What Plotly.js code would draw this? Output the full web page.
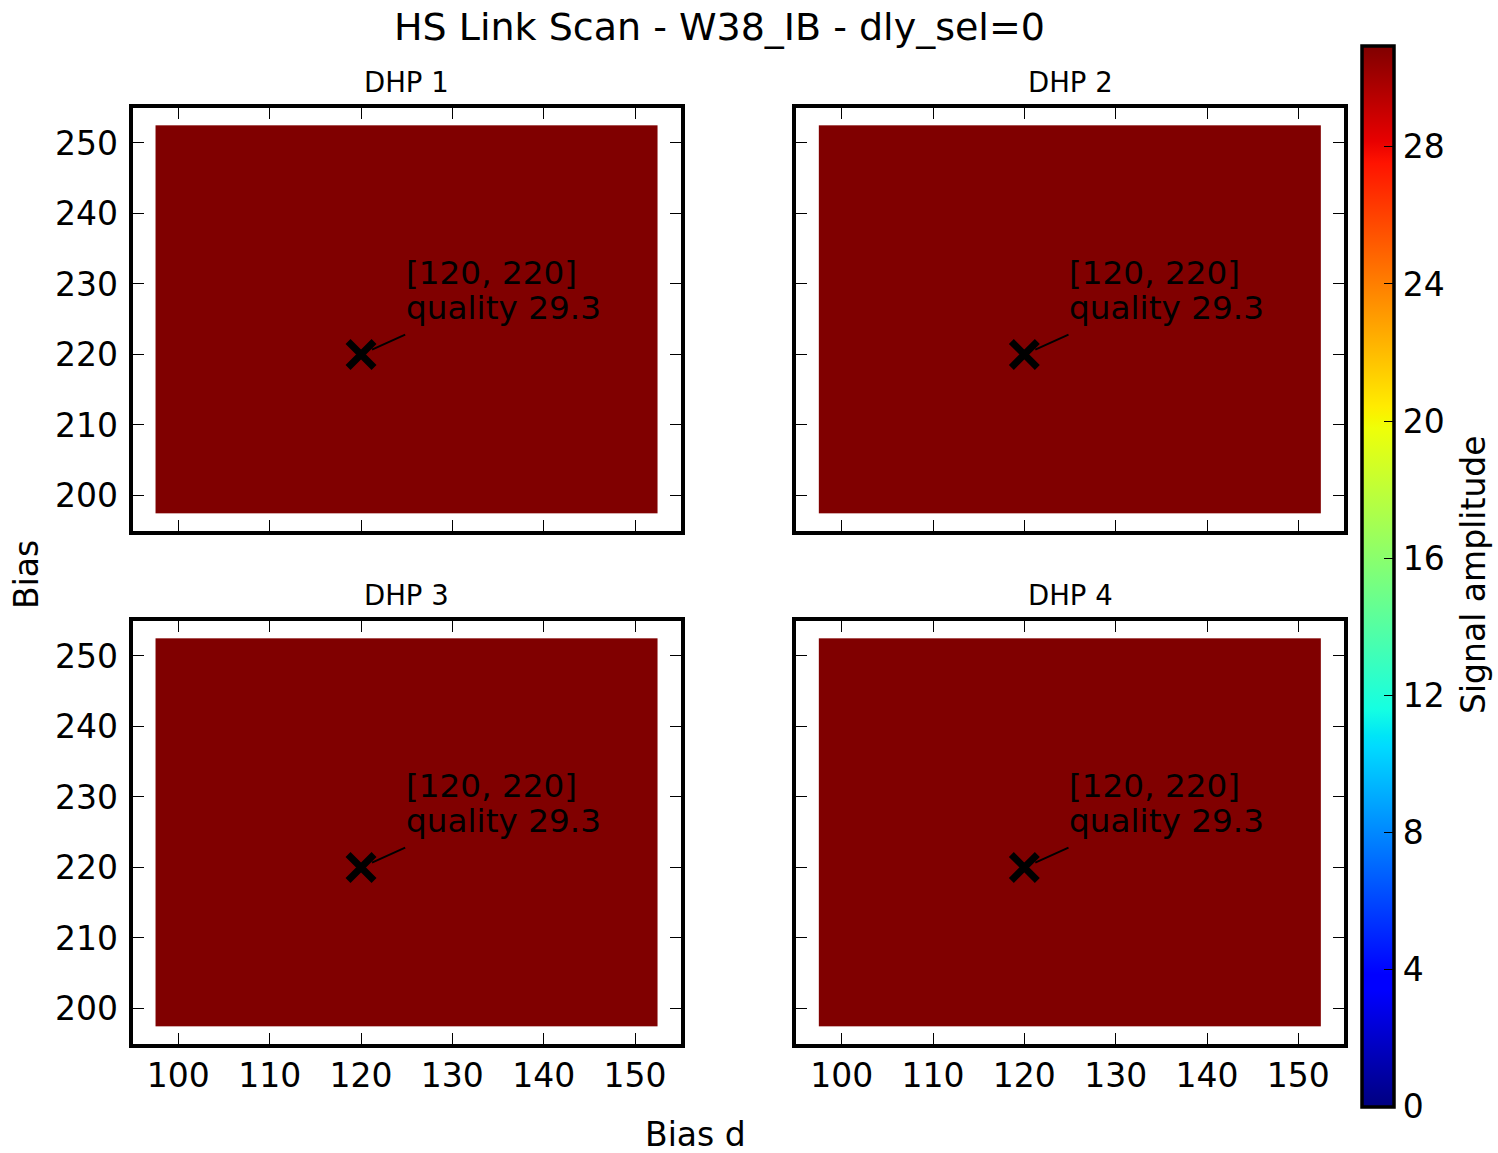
<!DOCTYPE html>
<html>
<head>
<meta charset="utf-8">
<script src="https://cdn.plot.ly/plotly-3.0.1.min.js"></script>
<style>html,body{margin:0;padding:0;background:#fff;}#chart{width:1498px;height:1153px;}</style>
</head>
<body>
<div id="chart"></div>
<script>
// ---------------- data ----------------
const chartTitle = 'HS Link Scan - W38_IB - dly_sel=0';
const panelNames = ['DHP 1', 'DHP 2', 'DHP 3', 'DHP 4'];
const biasD = [100, 105, 110, 115, 120, 125, 130, 135, 140, 145, 150];   // x (Bias d)
const bias  = [200, 205, 210, 215, 220, 225, 230, 235, 240, 245, 250];   // y (Bias)
const signalAmplitude = [
  [30.95, 30.95, 30.95, 30.95, 30.95, 30.95, 30.95, 30.95, 30.95, 30.95, 30.95],
  [30.95, 30.95, 30.95, 30.95, 30.95, 30.95, 30.95, 30.95, 30.95, 30.95, 30.95],
  [30.95, 30.95, 30.95, 30.95, 30.95, 30.95, 30.95, 30.95, 30.95, 30.95, 30.95],
  [30.95, 30.95, 30.95, 30.95, 30.95, 30.95, 30.95, 30.95, 30.95, 30.95, 30.95],
  [30.95, 30.95, 30.95, 30.95, 30.95, 30.95, 30.95, 30.95, 30.95, 30.95, 30.95],
  [30.95, 30.95, 30.95, 30.95, 30.95, 30.95, 30.95, 30.95, 30.95, 30.95, 30.95],
  [30.95, 30.95, 30.95, 30.95, 30.95, 30.95, 30.95, 30.95, 30.95, 30.95, 30.95],
  [30.95, 30.95, 30.95, 30.95, 30.95, 30.95, 30.95, 30.95, 30.95, 30.95, 30.95],
  [30.95, 30.95, 30.95, 30.95, 30.95, 30.95, 30.95, 30.95, 30.95, 30.95, 30.95],
  [30.95, 30.95, 30.95, 30.95, 30.95, 30.95, 30.95, 30.95, 30.95, 30.95, 30.95],
  [30.95, 30.95, 30.95, 30.95, 30.95, 30.95, 30.95, 30.95, 30.95, 30.95, 30.95]
];
const bestBiasD = [120, 120, 120, 120];
const bestBias  = [220, 220, 220, 220];
const quality   = [29.3, 29.3, 29.3, 29.3];
const xTicks = [100, 110, 120, 130, 140, 150];
const yTicks = [200, 210, 220, 230, 240, 250];
const cbTicks = [0, 4, 8, 12, 16, 20, 24, 28];
const colorMin = 0;
const colorMax = 30.95;

// ---------------- style ----------------
const W = 1498, H = 1153;
const FONT = 'DejaVu Sans, sans-serif';
const TICK = 33;
const px = v => v / W;
const py = v => 1 - v / H;

// matplotlib "jet" colormap from its segment data
const jetSeg = {
  r: [[0, 0], [0.35, 0], [0.66, 1], [0.89, 1], [1, 0.5]],
  g: [[0, 0], [0.125, 0], [0.375, 1], [0.64, 1], [0.91, 0], [1, 0]],
  b: [[0, 0.5], [0.11, 1], [0.34, 1], [0.65, 0], [1, 0]]
};
function segVal(seg, t) {
  for (let i = 0; i < seg.length - 1; i++) {
    const [t0, v0] = seg[i], [t1, v1] = seg[i + 1];
    if (t >= t0 && t <= t1) return v0 + (v1 - v0) * (t - t0) / (t1 - t0);
  }
  return seg[seg.length - 1][1];
}
const stopSet = new Set();
['r', 'g', 'b'].forEach(k => jetSeg[k].forEach(p => stopSet.add(p[0])));
const stops = Array.from(stopSet).sort((a, b) => a - b);
const jet = stops.map(t => [t, 'rgb(' + Math.round(255 * segVal(jetSeg.r, t)) + ',' +
  Math.round(255 * segVal(jetSeg.g, t)) + ',' + Math.round(255 * segVal(jetSeg.b, t)) + ')']);

// panel geometry (inner edges of the frames, in pixels)
const colX = [[132.7, 680.7], [796, 1344]];
const rowY = [[107.7, 530.7], [620.7, 1043.7]];

const data = [];
const layout = {
  width: W, height: H,
  margin: {l: 0, r: 0, t: 0, b: 0},
  paper_bgcolor: '#fff', plot_bgcolor: '#fff',
  font: {family: FONT, color: '#000', size: TICK},
  showlegend: false,
  coloraxis: {
    cmin: colorMin, cmax: colorMax, colorscale: jet,
    colorbar: {
      x: px(1362.2), xanchor: 'left', xpad: 0, ypad: 0,
      y: py(576.2), yanchor: 'middle',
      thickness: 32, thicknessmode: 'pixels',
      len: 1061.3, lenmode: 'pixels',
      outlinewidth: 3.5, outlinecolor: '#000',
      ticks: 'inside', ticklen: 11, tickwidth: 1, tickcolor: '#000',
      tickvals: cbTicks, ticktext: cbTicks.map(String),
      tickfont: {family: FONT, size: TICK, color: '#000'}
    }
  },
  annotations: [],
  title: {text: ''}
};

panelNames.forEach((name, i) => {
  const r = Math.floor(i / 2), c = i % 2;
  const xa = i === 0 ? 'x' : 'x' + (i + 1);
  const ya = i === 0 ? 'y' : 'y' + (i + 1);
  const xKey = i === 0 ? 'xaxis' : 'xaxis' + (i + 1);
  const yKey = i === 0 ? 'yaxis' : 'yaxis' + (i + 1);
  const common = {
    showline: true, linewidth: 4, linecolor: '#000', mirror: 'ticks',
    ticks: 'inside', ticklen: 11, tickwidth: 1, tickcolor: '#000',
    showgrid: false, zeroline: false, fixedrange: true,
    tickfont: {family: FONT, size: TICK, color: '#000'}
  };
  layout[xKey] = Object.assign({}, common, {
    domain: [px(colX[c][0]), px(colX[c][1])],
    range: [95, 155], anchor: ya,
    tickvals: xTicks, ticktext: xTicks.map(String),
    showticklabels: r === 1
  });
  layout[yKey] = Object.assign({}, common, {
    domain: [py(rowY[r][1]), py(rowY[r][0])],
    range: [195, 255], anchor: xa,
    tickvals: yTicks, ticktext: yTicks.map(String),
    showticklabels: c === 0, ticklabelstandoff: 4
  });

  data.push({
    type: 'heatmap', x: biasD, y: bias, z: signalAmplitude,
    coloraxis: 'coloraxis', xaxis: xa, yaxis: ya, hoverinfo: 'skip'
  });
  data.push({
    type: 'scatter', mode: 'markers', x: [bestBiasD[i]], y: [bestBias[i]],
    xaxis: xa, yaxis: ya, hoverinfo: 'skip',
    marker: {symbol: 'x-thin', size: 26, color: '#000', line: {width: 7, color: '#000'}}
  });

  // panel title
  layout.annotations.push({
    xref: 'paper', yref: 'paper',
    x: px((colX[c][0] + colX[c][1]) / 2), y: py(rowY[r][0] - 25.5),
    xanchor: 'center', yanchor: 'middle', showarrow: false,
    text: name, font: {family: FONT, size: 27.5, color: '#000'}
  });
  // arrow from the label to the best point
  layout.annotations.push({
    xref: xa, yref: ya, axref: xa, ayref: ya,
    x: bestBiasD[i], y: bestBias[i],
    ax: bestBiasD[i] + 5, ay: bestBias[i] + 2.9,
    text: '', showarrow: true, arrowhead: 0, arrowwidth: 2, arrowcolor: '#000',
    standoff: 12
  });
  // label lines
  layout.annotations.push({
    xref: xa, yref: ya, x: bestBiasD[i] + 4.8, y: bestBias[i] + 11.5,
    xanchor: 'left', yanchor: 'middle', showarrow: false, borderpad: 0,
    text: '[' + bestBiasD[i] + ', ' + bestBias[i] + ']',
    font: {family: FONT, size: 32.7, color: '#000'}
  });
  layout.annotations.push({
    xref: xa, yref: ya, x: bestBiasD[i] + 4.8, y: bestBias[i] + 6.55,
    xanchor: 'left', yanchor: 'middle', showarrow: false, borderpad: 0,
    text: 'quality ' + quality[i].toFixed(1),
    font: {family: FONT, size: 32.7, color: '#000'}
  });
});

// figure title and axis labels
layout.annotations.push({
  xref: 'paper', yref: 'paper', x: px(719), y: py(27),
  xanchor: 'center', yanchor: 'middle', showarrow: false,
  text: chartTitle, font: {family: FONT, size: 38, color: '#000'}
});
layout.annotations.push({
  xref: 'paper', yref: 'paper', x: px(695), y: py(1134),
  xanchor: 'center', yanchor: 'middle', showarrow: false,
  text: 'Bias d', font: {family: FONT, size: 33, color: '#000'}
});
layout.annotations.push({
  xref: 'paper', yref: 'paper', x: px(26), y: py(575),
  xanchor: 'center', yanchor: 'middle', showarrow: false, textangle: -90,
  text: 'Bias', font: {family: FONT, size: 33, color: '#000'}
});
layout.annotations.push({
  xref: 'paper', yref: 'paper', x: px(1473), y: py(575),
  xanchor: 'center', yanchor: 'middle', showarrow: false, textangle: -90,
  text: 'Signal amplitude', font: {family: FONT, size: 33, color: '#000'}
});

Plotly.newPlot('chart', data, layout, {staticPlot: true, displayModeBar: false});
</script>
</body>
</html>
